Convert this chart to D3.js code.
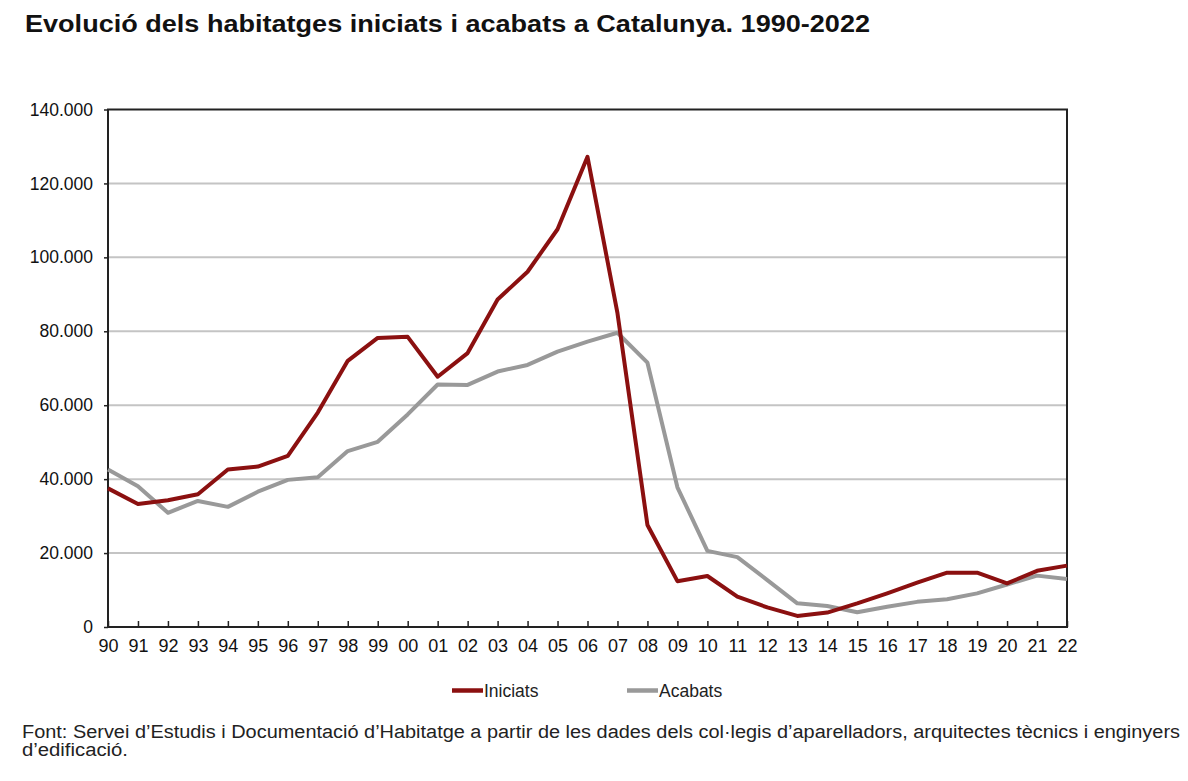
<!DOCTYPE html>
<html><head><meta charset="utf-8">
<script src="https://cdn.jsdelivr.net/npm/d3@7"></script>
<style>body{margin:0;background:#fff;} text{font-family:"Liberation Sans",Arial,sans-serif;}</style>
</head><body>
<svg id="c" width="1188" height="781"></svg>
<script>
const years = ["90","91","92","93","94","95","96","97","98","99","00","01","02","03","04","05","06","07","08","09","10","11","12","13","14","15","16","17","18","19","20","21","22"];
const iniciats = [37500,33300,34300,35900,42600,43400,46300,58000,72000,78200,78500,67700,74100,88600,96100,107600,127200,84900,27600,12400,13800,8200,5300,3000,3900,6400,9100,12000,14700,14700,11800,15200,16600];
const acabats = [42600,38100,30900,34100,32500,36600,39800,40500,47600,50100,57500,65600,65500,69100,70900,74500,77200,79600,71500,37800,20600,18900,12700,6400,5700,4000,5500,6800,7500,9100,11500,13900,13000];
const yTicks = [0,20000,40000,60000,80000,100000,120000,140000];
const yTickLabels = ["0","20.000","40.000","60.000","80.000","100.000","120.000","140.000"];
const seriesNames = ["Iniciats","Acabats"];
const colors = ["#8b1010","#999999"];

const svg = d3.select("#c");
const L=108,R=1067,T=109.5,B=627;
const x = d3.scaleLinear().domain([0,years.length-1]).range([L,R]);
const y = d3.scaleLinear().domain([0,140000]).range([B,T]);

svg.append("text").attr("x",25).attr("y",32).attr("font-size",23).attr("font-weight","bold").attr("fill","#111")
  .attr("textLength",845).attr("lengthAdjust","spacingAndGlyphs")
  .text("Evolució dels habitatges iniciats i acabats a Catalunya. 1990-2022");

// gridlines
svg.append("g").selectAll("line").data(yTicks.slice(1,-1)).join("line")
  .attr("x1",L).attr("x2",R).attr("y1",d=>y(d)).attr("y2",d=>y(d))
  .attr("stroke","#c4c4c4").attr("stroke-width",2);

// y axis
const ya = svg.append("g").attr("transform",`translate(${L},0)`)
  .call(d3.axisLeft(y).tickValues(yTicks).tickSize(4).tickPadding(11).tickFormat((d,i)=>yTickLabels[i]));
ya.select(".domain").remove();
ya.selectAll("line").attr("stroke","#222").attr("stroke-width",1.5);
ya.selectAll("text").attr("font-size",17.5).attr("fill","#111").attr("font-family","Liberation Sans, Arial, sans-serif");

// x axis
const xa = svg.append("g").attr("transform",`translate(0,${B})`)
  .call(d3.axisBottom(x).tickValues(d3.range(years.length)).tickSize(-6).tickPadding(12).tickFormat(i=>years[i]));
xa.select(".domain").remove();
xa.selectAll("line").attr("stroke","#222").attr("stroke-width",1.5);
xa.selectAll("text").attr("font-size",18).attr("fill","#111").attr("font-family","Liberation Sans, Arial, sans-serif");

// frame
svg.append("rect").attr("x",L).attr("y",T).attr("width",R-L).attr("height",B-T)
  .attr("fill","none").attr("stroke","#222").attr("stroke-width",2);

const line = d3.line().x((d,i)=>x(i)).y(d=>y(d));
[acabats,iniciats].forEach((s,k)=>{
  svg.append("path").datum(s).attr("d",line).attr("fill","none")
    .attr("stroke",k===0?colors[1]:colors[0]).attr("stroke-width",4).attr("stroke-linejoin","round");
});

// legend
const lg = [{x:452,n:0},{x:627,n:1}];
lg.forEach(o=>{
  svg.append("line").attr("x1",o.x).attr("x2",o.x+31).attr("y1",690.5).attr("y2",690.5)
    .attr("stroke",colors[o.n]).attr("stroke-width",4.5);
  svg.append("text").attr("x",o.x+32).attr("y",697).attr("font-size",17.5).attr("fill","#222").text(seriesNames[o.n]);
});

svg.append("text").attr("x",22).attr("y",738).attr("font-size",18).attr("fill","#222")
  .attr("textLength",1158).attr("lengthAdjust","spacingAndGlyphs")
  .text("Font: Servei d’Estudis i Documentació d’Habitatge a partir de les dades dels col·legis d’aparelladors, arquitectes tècnics i enginyers");
svg.append("text").attr("x",22).attr("y",756).attr("font-size",18).attr("fill","#222")
  .attr("textLength",106).attr("lengthAdjust","spacingAndGlyphs").text("d’edificació.");
</script>
</body></html>
